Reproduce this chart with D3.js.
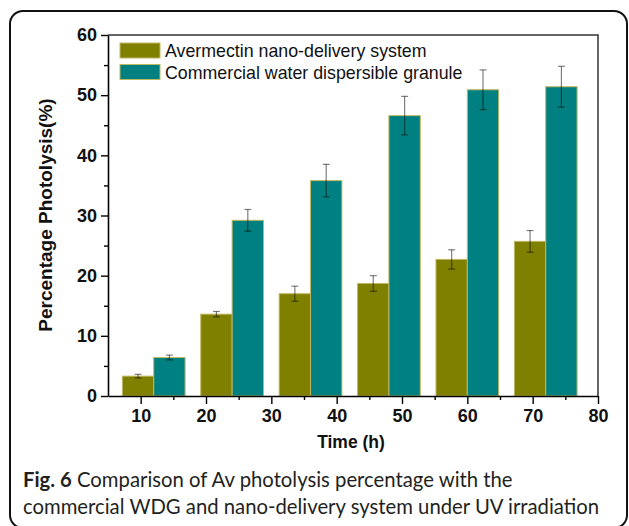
<!DOCTYPE html>
<html>
<head>
<meta charset="utf-8">
<script src="https://cdn.jsdelivr.net/npm/d3@7"></script>
<style>
  body { margin: 0; background: #fff; }
  svg { display: block; }
  text { font-family: Arial, "Liberation Sans", sans-serif; }
  text.caption { font-family: Lato, "Open Sans", sans-serif; }
</style>
</head>
<body>
<svg width="629" height="526"></svg>
<script>
// data
let times = [12, 24, 36, 48, 60, 72];           // group position on the Time axis
let avermectin = [3.3, 13.6, 17.0, 18.7, 22.7, 25.7];
let avermectinErr = [0.3, 0.45, 1.25, 1.3, 1.6, 1.8];
let wdg = [6.4, 29.2, 35.8, 46.6, 50.9, 51.4];
let wdgErr = [0.4, 1.8, 2.7, 3.2, 3.3, 3.4];
let seriesNames = ["Avermectin nano-delivery system", "Commercial water dispersible granule"];
let xTicks = [10, 20, 30, 40, 50, 60, 70, 80];
let yTicks = [0, 10, 20, 30, 40, 50, 60];

let svg = d3.select("svg");
let colors = ["#808000", "#008080"];
let barW = 4.8; // in axis units

// outer frame
svg.append("rect")
    .attr("x", 10).attr("y", 11)
    .attr("width", 617).attr("height", 517)
    .attr("rx", 13)
    .attr("fill", "none")
    .attr("stroke", "#111")
    .attr("stroke-width", 2);

let margin = { left: 108, right: 598, top: 35, bottom: 396 };

let x = d3.scaleLinear().domain([5, 80]).range([margin.left, margin.right]);
let y = d3.scaleLinear().domain([0, 60]).range([margin.bottom, margin.top]);

// plot box (top and right)
svg.append("path")
    .attr("d", `M${margin.left},${margin.top}H${margin.right}V${margin.bottom}`)
    .attr("fill", "none")
    .attr("stroke", "#333")
    .attr("stroke-width", 1.5);

// bars
let series = [
    { vals: avermectin, err: avermectinErr, off: -barW },
    { vals: wdg, err: wdgErr, off: 0 }
];

series.forEach(function (s, si) {
    let g = svg.append("g");
    g.selectAll("rect")
        .data(s.vals)
        .enter().append("rect")
        .attr("x", function (d, i) { return x(times[i] + s.off); })
        .attr("y", function (d) { return y(d); })
        .attr("width", x(barW) - x(0))
        .attr("height", function (d) { return y(0) - y(d); })
        .attr("fill", colors[si])
        .attr("stroke", "#c2b660")
        .attr("stroke-width", 1);

    // error bars
    let eb = g.selectAll(".err")
        .data(s.vals)
        .enter().append("g")
        .attr("class", "err")
        .attr("stroke", "#000")
        .attr("stroke-opacity", 0.5)
        .attr("stroke-width", 1.2);
    let cx = function (i) { return x(times[i] + s.off + barW / 2); };
    eb.append("line")
        .attr("x1", function (d, i) { return cx(i); })
        .attr("x2", function (d, i) { return cx(i); })
        .attr("y1", function (d, i) { return y(d - s.err[i]); })
        .attr("y2", function (d, i) { return y(d + s.err[i]); });
    eb.append("line")
        .attr("x1", function (d, i) { return cx(i) - 3.5; })
        .attr("x2", function (d, i) { return cx(i) + 3.5; })
        .attr("y1", function (d, i) { return y(d + s.err[i]); })
        .attr("y2", function (d, i) { return y(d + s.err[i]); });
    eb.append("line")
        .attr("x1", function (d, i) { return cx(i) - 3.5; })
        .attr("x2", function (d, i) { return cx(i) + 3.5; })
        .attr("y1", function (d, i) { return y(d - s.err[i]); })
        .attr("y2", function (d, i) { return y(d - s.err[i]); });
});

// axes
let xAxis = svg.append("g")
    .attr("transform", `translate(0,${margin.bottom})`)
    .call(d3.axisBottom(x).tickValues(xTicks).tickSizeInner(8).tickSizeOuter(0).tickPadding(5));
let xMinor = svg.append("g")
    .attr("transform", `translate(0,${margin.bottom})`)
    .call(d3.axisBottom(x).tickValues([15, 25, 35, 45, 55, 65, 75]).tickSize(4).tickFormat(""));
let yAxis = svg.append("g")
    .attr("transform", `translate(${margin.left},0)`)
    .call(d3.axisLeft(y).tickValues(yTicks).tickSizeInner(7).tickSizeOuter(0).tickPadding(4));
let yMinor = svg.append("g")
    .attr("transform", `translate(${margin.left},0)`)
    .call(d3.axisLeft(y).tickValues([5, 15, 25, 35, 45, 55]).tickSize(4).tickFormat(""));

[xAxis, yAxis, xMinor, yMinor].forEach(function (a) {
    a.select(".domain").attr("stroke", "#000").attr("stroke-width", 1.6);
    a.selectAll(".tick line").attr("stroke", "#000").attr("stroke-width", 1.4);
    a.selectAll("text")
        .attr("fill", "#111")
        .style("font-size", "18px")
        .style("font-weight", "bold");
});
xMinor.select(".domain").remove();
yMinor.select(".domain").remove();

// axis titles
svg.append("text")
    .attr("x", 351).attr("y", 448)
    .attr("text-anchor", "middle")
    .style("font-size", "17.5px").style("font-weight", "bold")
    .attr("fill", "#111")
    .text("Time (h)");
svg.append("text")
    .attr("transform", "translate(52,215) rotate(-90)")
    .attr("text-anchor", "middle")
    .style("font-size", "19px").style("font-weight", "bold")
    .attr("fill", "#111")
    .text("Percentage Photolysis(%)");

// legend
let legend = svg.append("g").selectAll("g")
    .data(seriesNames)
    .enter().append("g")
    .attr("transform", function (d, i) { return `translate(120,${43 + i * 21.5})`; });
legend.append("rect")
    .attr("width", 40).attr("height", 15)
    .attr("fill", function (d, i) { return colors[i]; })
    .attr("stroke", "#c2b660");
legend.append("text")
    .attr("x", 45).attr("y", 14)
    .style("font-size", "17.8px")
    .attr("fill", "#111")
    .text(function (d) { return d; });

// caption
let cap = svg.append("g").attr("fill", "#231f20");
let l1 = cap.append("text").attr("class", "caption").attr("x", 23).attr("y", 487).style("font-size", "20.3px");
l1.append("tspan").style("font-weight", "bold").text("Fig. 6");
l1.append("tspan").text(" Comparison of Av photolysis percentage with the");
cap.append("text").attr("class", "caption").attr("x", 23).attr("y", 514).style("font-size", "20.3px")
    .text("commercial WDG and nano-delivery system under UV irradiation");
</script>
</body>
</html>
